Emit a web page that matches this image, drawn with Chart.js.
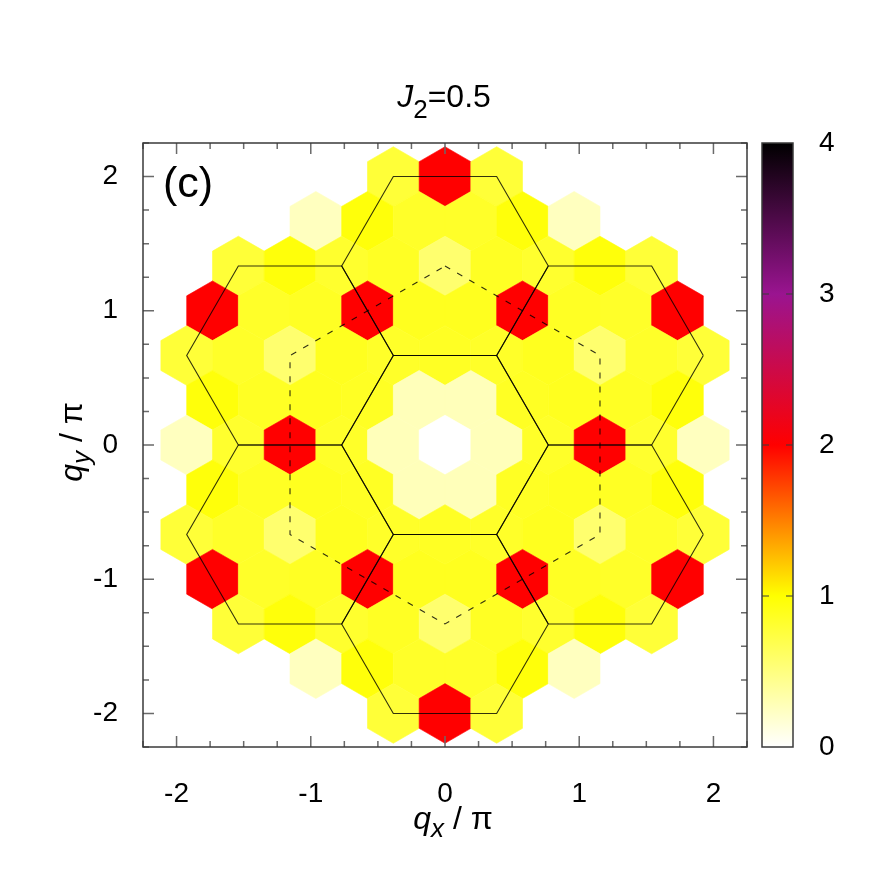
<!DOCTYPE html>
<html>
<head>
<meta charset="utf-8">
<script src="https://cdn.jsdelivr.net/npm/chart.js@4"></script>
<style>
html, body { margin: 0; padding: 0; background: #fff; }
#wrap { position: relative; width: 891px; height: 891px; }
#main { position: absolute; left: 0; top: 0; }
#cbar { position: absolute; left: 700px; top: 0; }
</style>
</head>
<body>
<div id="wrap">
  <canvas id="main" width="891" height="891"></canvas>
  <canvas id="cbar" width="191" height="891"></canvas>
</div>
<script>
// ---- data ----
// cells sit on a triangular grid: qy = row/3, qx = m * step/2
const cellStep = 0.3849;
const rowIndex = [6, 5, 4, 3, 2, 1, 0, -1, -2, -3, -4, -5, -6];
const rowFirstM = [-2, -5, -8, -9, -10, -9, -10, -9, -10, -9, -8, -5, -2];
const rowValues = [
  [0.78, 2.0, 0.78],
  [0.25, 0.96, 0.84, 0.84, 0.96, 0.25],
  [0.78, 0.96, 0.82, 0.86, 0.57, 0.86, 0.82, 0.96, 0.78],
  [2.0, 0.84, 0.86, 2.0, 0.88, 0.88, 2.0, 0.86, 0.84, 2.0],
  [0.78, 0.84, 0.57, 0.88, 0.84, 0.86, 0.84, 0.88, 0.57, 0.84, 0.78],
  [0.96, 0.86, 0.88, 0.86, 0.27, 0.27, 0.86, 0.88, 0.86, 0.96],
  [0.25, 0.82, 2.0, 0.84, 0.27, 0.0, 0.27, 0.84, 2.0, 0.82, 0.25],
  [0.96, 0.86, 0.88, 0.86, 0.27, 0.27, 0.86, 0.88, 0.86, 0.96],
  [0.78, 0.84, 0.57, 0.88, 0.84, 0.86, 0.84, 0.88, 0.57, 0.84, 0.78],
  [2.0, 0.84, 0.86, 2.0, 0.88, 0.88, 2.0, 0.86, 0.84, 2.0],
  [0.78, 0.96, 0.82, 0.86, 0.57, 0.86, 0.82, 0.96, 0.78],
  [0.25, 0.96, 0.84, 0.84, 0.96, 0.25],
  [0.78, 2.0, 0.78]
];
const xTicks = [-2, -1, 0, 1, 2];
const yTicks = [-2, -1, 0, 1, 2];
const cbTicks = [0, 1, 2, 3, 4];
const cbColors = ['#ffffff', '#ffff00', '#ff0000', '#9a1490', '#000000'];
// Brillouin zone centres (extended zone) and the dashed hexagon through them
const bzCenters = [[0, 0], [0, 4/3], [1.1547, 2/3], [1.1547, -2/3], [0, -4/3], [-1.1547, -2/3], [-1.1547, 2/3]];
const bzRadius = 0.7698;

const FONT = "'Liberation Sans', Arial, Helvetica, sans-serif";
const AX_MIN = -2.25, AX_MAX = 2.25;

let cells = [];
rowIndex.forEach((k, r) => {
  rowValues[r].forEach((v, j) => {
    cells.push({x: (rowFirstM[r] + 2 * j) * cellStep / 2, y: k / 3, v: v});
  });
});

function hexToRgb(h) {
  return [parseInt(h.slice(1, 3), 16), parseInt(h.slice(3, 5), 16), parseInt(h.slice(5, 7), 16)];
}
function colorFor(v) {
  let i = 0;
  while (i < cbTicks.length - 2 && v > cbTicks[i + 1]) i++;
  const t = Math.max(0, Math.min(1, (v - cbTicks[i]) / (cbTicks[i + 1] - cbTicks[i])));
  const a = hexToRgb(cbColors[i]), b = hexToRgb(cbColors[i + 1]);
  const c = a.map((x, n) => Math.round(x + (b[n] - x) * t));
  return 'rgb(' + c.join(',') + ')';
}

function hexagon(cx, cy, r) {
  let pts = [];
  for (let i = 0; i <= 6; i++) {
    const a = Math.PI / 3 * i;
    pts.push({x: cx + r * Math.cos(a), y: cy + r * Math.sin(a)});
  }
  return pts;
}

let lineSets = bzCenters.map(c => ({
  data: hexagon(c[0], c[1], bzRadius),
  showLine: true, borderColor: 'rgba(0,0,0,0.8)', borderWidth: 1.1,
  pointRadius: 0, fill: false
}));
let dashed = bzCenters.slice(1).map(c => ({x: c[0], y: c[1]}));
dashed.push(dashed[0]);
lineSets.push({
  data: dashed, showLine: true, borderColor: 'rgba(0,0,0,0.8)', borderWidth: 1.1,
  borderDash: [6, 8], pointRadius: 0, fill: false
});

// draws the hexagonal cells of dataset 0 through the scales
const hexCells = {
  id: 'hexCells',
  beforeDatasetsDraw(chart) {
    const {ctx, chartArea, scales: {x, y}} = chart;
    const R = cellStep / Math.sqrt(3);
    ctx.save();
    ctx.beginPath();
    ctx.rect(chartArea.left, chartArea.top, chartArea.right - chartArea.left, chartArea.bottom - chartArea.top);
    ctx.clip();
    chart.data.datasets[0].data.forEach(p => {
      ctx.beginPath();
      for (let i = 0; i < 6; i++) {
        const a = Math.PI / 3 * i;
        const px = x.getPixelForValue(p.x + R * Math.sin(a));
        const py = y.getPixelForValue(p.y + R * Math.cos(a));
        if (i === 0) ctx.moveTo(px, py); else ctx.lineTo(px, py);
      }
      ctx.closePath();
      const c = colorFor(p.v);
      ctx.fillStyle = c;
      ctx.strokeStyle = c;
      ctx.lineWidth = 0.6;
      ctx.fill();
      ctx.stroke();
    });
    ctx.restore();
  }
};

function drawTicks(ctx, scale, horizontal, a, b, majors, minors) {
  ctx.beginPath();
  majors.forEach(v => {
    const p = scale.getPixelForValue(v);
    if (horizontal) {
      ctx.moveTo(p, a); ctx.lineTo(p, a - 11);
      ctx.moveTo(p, b); ctx.lineTo(p, b + 11);
    } else {
      ctx.moveTo(a, p); ctx.lineTo(a + 11, p);
      ctx.moveTo(b, p); ctx.lineTo(b - 11, p);
    }
  });
  minors.forEach(v => {
    const p = scale.getPixelForValue(v);
    if (horizontal) {
      ctx.moveTo(p, a); ctx.lineTo(p, a - 6);
      ctx.moveTo(p, b); ctx.lineTo(p, b + 6);
    } else {
      ctx.moveTo(a, p); ctx.lineTo(a + 6, p);
      ctx.moveTo(b, p); ctx.lineTo(b - 6, p);
    }
  });
  ctx.stroke();
}

function richText(ctx, parts, x, y, align) {
  let w = 0;
  parts.forEach(p => {
    ctx.font = (p.italic ? 'italic ' : '') + p.size + 'px ' + FONT;
    p.w = ctx.measureText(p.t).width;
    w += p.w;
  });
  let cx = align === 'center' ? x - w / 2 : x;
  ctx.textBaseline = 'alphabetic';
  ctx.textAlign = 'left';
  parts.forEach(p => {
    ctx.font = (p.italic ? 'italic ' : '') + p.size + 'px ' + FONT;
    ctx.fillText(p.t, cx, y + (p.shift || 0));
    cx += p.w;
  });
}

const frameAndText = {
  id: 'frameAndText',
  afterDraw(chart) {
    const {ctx, chartArea: ca, scales: {x, y}} = chart;
    let minors = [];
    for (let i = -9; i <= 9; i++) if (i % 4 !== 0) minors.push(i * 0.25);
    ctx.save();
    ctx.strokeStyle = '#6a6a6a';
    ctx.lineWidth = 1.5;
    drawTicks(ctx, x, true, ca.bottom, ca.top, xTicks, minors);
    drawTicks(ctx, y, false, ca.left, ca.right, yTicks, minors);
    ctx.strokeStyle = '#3a3a3a';
    ctx.lineWidth = 1.5;
    ctx.strokeRect(ca.left, ca.top, ca.right - ca.left, ca.bottom - ca.top);

    ctx.fillStyle = '#000';
    richText(ctx, [
      {t: 'J', italic: true, size: 32},
      {t: '2', size: 26, shift: 11},
      {t: '=0.5', size: 32}
    ], 444, 107, 'center');
    richText(ctx, [{t: '(c)', size: 43}], ca.left + 20, 197, 'left');
    richText(ctx, [
      {t: 'q', italic: true, size: 32},
      {t: 'x', italic: true, size: 26, shift: 8},
      {t: ' / \u03c0', size: 32}
    ], 453, 829, 'center');
    ctx.save();
    ctx.translate(82, 442);
    ctx.rotate(-Math.PI / 2);
    richText(ctx, [
      {t: 'q', italic: true, size: 32},
      {t: 'y', italic: true, size: 26, shift: 8},
      {t: ' / \u03c0', size: 32}
    ], 0, 0, 'center');
    ctx.restore();
    ctx.restore();
  }
};

new Chart(document.getElementById('main'), {
  type: 'scatter',
  data: {
    datasets: [{data: cells, pointRadius: 0, showLine: false}].concat(lineSets)
  },
  options: {
    responsive: false,
    animation: false,
    events: [],
    layout: {padding: {top: 143, right: 144, left: 0, bottom: 0}},
    plugins: {legend: {display: false}, tooltip: {enabled: false}, title: {display: false}},
    scales: {
      x: {
        type: 'linear', min: AX_MIN, max: AX_MAX, position: 'bottom',
        afterBuildTicks: s => { s.ticks = xTicks.map(v => ({value: v})); },
        afterFit: s => { s.height = 144; },
        grid: {display: false, drawTicks: false}, border: {display: false},
        ticks: {font: {family: FONT, size: 28}, color: '#000', padding: 30, maxRotation: 0}
      },
      y: {
        type: 'linear', min: AX_MIN, max: AX_MAX,
        afterBuildTicks: s => { s.ticks = yTicks.map(v => ({value: v})); },
        afterFit: s => { s.width = 143; },
        grid: {display: false, drawTicks: false}, border: {display: false},
        ticks: {font: {family: FONT, size: 28}, color: '#000', padding: 25}
      }
    }
  },
  plugins: [hexCells, frameAndText]
});

// ---- colour bar ----
const cbFrame = {
  id: 'cbFrame',
  afterDraw(chart) {
    const {ctx, chartArea: ca, scales: {y}} = chart;
    ctx.save();
    ctx.strokeStyle = '#3a3a3a';
    ctx.lineWidth = 1.2;
    ctx.beginPath();
    cbTicks.slice(1, -1).forEach(v => {
      const p = y.getPixelForValue(v);
      ctx.moveTo(ca.left, p); ctx.lineTo(ca.left + 7, p);
      ctx.moveTo(ca.right, p); ctx.lineTo(ca.right - 7, p);
    });
    ctx.stroke();
    ctx.lineWidth = 1.5;
    ctx.strokeRect(ca.left, ca.top, ca.right - ca.left, ca.bottom - ca.top);
    ctx.restore();
  }
};

new Chart(document.getElementById('cbar'), {
  type: 'bar',
  data: {
    labels: [''],
    datasets: [{
      data: [[cbTicks[0], cbTicks[cbTicks.length - 1]]],
      barPercentage: 1, categoryPercentage: 1, borderWidth: 0,
      backgroundColor: ctx => {
        const area = ctx.chart.chartArea;
        if (!area) return '#ffff00';
        const g = ctx.chart.ctx.createLinearGradient(0, area.bottom, 0, area.top);
        const top = cbTicks[cbTicks.length - 1];
        cbTicks.forEach((t, i) => g.addColorStop(t / top, cbColors[i]));
        return g;
      }
    }]
  },
  options: {
    responsive: false,
    animation: false,
    events: [],
    layout: {padding: {left: 62, top: 143, bottom: 144, right: 0}},
    plugins: {legend: {display: false}, tooltip: {enabled: false}},
    scales: {
      x: {display: false},
      y: {
        position: 'right', min: 0, max: 4,
        afterBuildTicks: s => { s.ticks = cbTicks.map(v => ({value: v})); },
        afterFit: s => { s.width = 98; },
        grid: {display: false, drawTicks: false}, border: {display: false},
        ticks: {font: {family: FONT, size: 28}, color: '#000', padding: 26}
      }
    }
  },
  plugins: [cbFrame]
});
</script>
</body>
</html>
